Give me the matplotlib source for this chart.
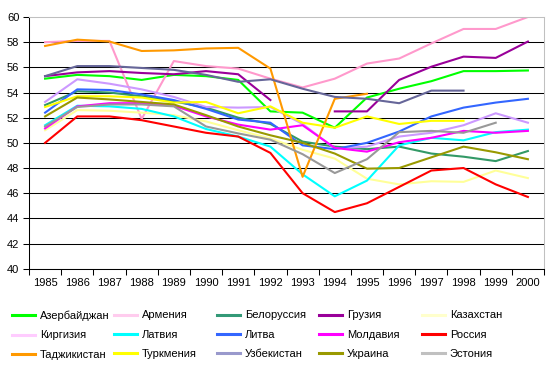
import numpy as np
import matplotlib
matplotlib.use('Agg')
import matplotlib.pyplot as plt
from matplotlib.lines import Line2D

matplotlib.rcParams['font.family'] = ['Liberation Sans', 'DejaVu Sans']
matplotlib.rcParams['font.size'] = 8

nan = np.nan
years = list(range(1985, 2001))

azerbaijan = [55.1, 55.4, 55.3, 55.0, 55.4, 55.3, 55.0, 52.5, 52.4, 51.2, 53.6, 54.3, 54.9, 55.7, 55.7, 55.75]
armenia = [58.0, 58.1, 58.1, 51.9, 56.5, 56.1, 55.9, 55.1, 54.4, 55.1, 56.3, 56.7, 57.9, 59.05, 59.05, 60.0]
belarus = [53.0, 54.1, 54.0, 53.7, 53.3, 52.8, 52.0, 51.5, 50.1, 49.7, 49.5, 49.7, 49.15, 48.9, 48.55, 49.35]
georgia = [55.3, 55.6, 55.7, 55.55, 55.45, 55.7, 55.45, 53.4, nan, 52.5, 52.5, 55.0, 56.05, 56.85, 56.75, 58.05]
kazakhstan = [51.0, 52.6, 52.55, 52.4, 52.2, 51.7, 51.0, 50.35, 49.45, 48.75, 47.15, 46.7, 46.95, 46.9, 47.8, 47.2]
kirgizia = [53.25, 55.05, 54.7, 54.25, 53.65, 52.85, 52.8, 52.85, 51.5, 49.55, 49.7, 50.5, 50.8, 51.4, 52.35, 51.6]
latvia = [51.4, 52.95, 52.9, 52.7, 52.1, 51.1, 50.5, 49.7, 47.5, 45.75, 47.0, 49.8, 50.4, 50.2, 50.85, 51.05]
lithuania = [52.4, 54.25, 54.2, 53.85, 53.4, 52.7, 51.85, 51.6, 49.8, 49.5, 50.0, 50.9, 52.1, 52.8, 53.2, 53.5]
moldova = [51.15, 52.9, 53.15, 53.15, 52.95, 52.1, 51.45, 51.05, 51.4, 49.6, 49.3, 50.05, 50.4, 50.95, 50.8, 50.95]
russia = [50.0, 52.1, 52.1, 51.8, 51.3, 50.8, 50.5, 49.2, 46.0, 44.5, 45.2, 46.5, 47.8, 48.0, 46.7, 45.7]
tajikistan = [57.7, 58.2, 58.05, 57.3, 57.35, 57.5, 57.55, 55.9, 47.3, 53.5, 53.9, nan, nan, nan, nan, nan]
turkmenia = [52.85, 53.7, 53.7, 53.6, 53.2, 53.25, 52.35, 52.9, 51.6, 51.2, 52.1, 51.5, 51.75, 51.75, nan, nan]
uzbekistan = [55.3, 56.1, 56.1, 55.95, 55.8, 55.4, 54.85, 55.05, 54.3, 53.65, 53.5, 53.15, 54.15, 54.15, nan, nan]
ukraine = [52.1, 53.6, 53.45, 53.25, 53.05, 52.2, 51.3, 50.6, 50.0, 49.15, 47.95, 48.0, 48.85, 49.7, 49.25, 48.7]
estonia = [51.3, 52.85, 53.05, 53.05, 52.9, 51.3, 50.75, 50.25, 49.1, 47.6, 48.7, 50.85, 50.95, 50.8, 51.6, nan]

names = ['Азербайджан', 'Армения', 'Белоруссия', 'Грузия', 'Казахстан',
         'Киргизия', 'Латвия', 'Литва', 'Молдавия', 'Россия',
         'Таджикистан', 'Туркмения', 'Узбекистан', 'Украина', 'Эстония']
series = [azerbaijan, armenia, belarus, georgia, kazakhstan,
          kirgizia, latvia, lithuania, moldova, russia,
          tajikistan, turkmenia, uzbekistan, ukraine, estonia]
colors = ['#00ff00', '#ff99cc', '#339966', '#990099', '#ffff99',
          '#cc99ff', '#00ffff', '#3366ff', '#ff00ff', '#ff0000',
          '#ff9900', '#ffff00', '#666699', '#999900', '#999999']
legend_colors = ['#00ff00', '#ffccee', '#339977', '#990099', '#ffffcc',
                 '#ffccff', '#00ffff', '#3366ff', '#ff00ff', '#ff0000',
                 '#ff9900', '#ffff00', '#9999cc', '#999900', '#c0c0c0']

W, H = 551, 371
fig = plt.figure(figsize=(W / 100, H / 100), dpi=100)
ax = fig.add_axes([29 / W, 1 - 268.7 / H, 515 / W, 251.7 / H])

x = np.arange(len(years))
for vals, c in zip(series, colors):
    ax.plot(x, vals, color=c, lw=1.5)

ax.set_xlim(-0.5, len(years) - 0.5)
ax.set_ylim(40, 60)
ax.set_yticks(np.arange(40, 61, 2))
ax.tick_params(axis='y', direction='out', length=4, width=0.75, pad=3, labelsize=8)

ax.set_xticks(np.arange(-0.5, len(years)), labels=[''] * (len(years) + 1))
ax.set_xticks(x, labels=[str(y) for y in years], minor=True)
ax.tick_params(axis='x', which='major', direction='out', length=4, width=0.75)
ax.tick_params(axis='x', which='minor', length=0, pad=7, labelsize=8)

ax.yaxis.grid(True, color='black', lw=0.75)
ax.set_axisbelow(True)
ax.get_ygridlines()[-1].set_visible(False)

for s in ['left', 'bottom']:
    ax.spines[s].set_color('black')
    ax.spines[s].set_linewidth(0.75)
for s in ['top', 'right']:
    ax.spines[s].set_color('#c0c0c0')
    ax.spines[s].set_linewidth(0.75)

# legend: 5 columns x 3 rows, equal column widths
for col in range(5):
    idx = [col + 5 * r for r in range(3)]
    handles = [Line2D([], [], color=legend_colors[i], lw=2.2) for i in idx]
    fig.legend(handles, [names[i] for i in idx],
               loc='upper left', bbox_to_anchor=((11.7 + 102.5 * col) / W, 1 - 310.5 / H),
               frameon=False, borderpad=0, borderaxespad=0, fontsize=8,
               handlelength=2.07, handletextpad=0.45, labelspacing=0.85)

fig.savefig('out.png', dpi=100)
